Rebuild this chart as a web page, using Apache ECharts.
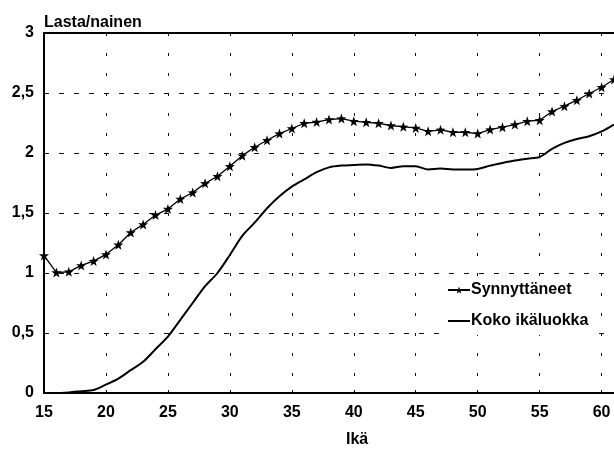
<!DOCTYPE html>
<html><head><meta charset="utf-8">
<script src="https://cdn.jsdelivr.net/npm/echarts@6/dist/echarts.min.js"></script>
<style>html,body{margin:0;padding:0;background:#fff}#c{width:614px;height:451px}</style>
</head><body><div id="c"></div>
<script>
const ages = [15,16,17,18,19,20,21,22,23,24,25,26,27,28,29,30,31,32,33,34,35,36,37,38,39,40,41,42,43,44,45,46,47,48,49,50,51,52,53,54,55,56,57,58,59,60,61];
const synnyttaneet = [1.146,1.004,1.01,1.063,1.099,1.155,1.235,1.338,1.405,1.483,1.533,1.617,1.67,1.747,1.806,1.889,1.978,2.048,2.106,2.162,2.204,2.248,2.258,2.279,2.287,2.265,2.256,2.248,2.229,2.218,2.209,2.181,2.193,2.173,2.173,2.162,2.195,2.215,2.237,2.265,2.273,2.346,2.39,2.44,2.496,2.548,2.613];
const kokoIkaluokka = [0,0,0.005,0.015,0.025,0.07,0.12,0.19,0.26,0.365,0.47,0.61,0.75,0.89,1.0,1.15,1.31,1.42,1.54,1.64,1.72,1.78,1.84,1.88,1.895,1.9,1.905,1.895,1.876,1.89,1.89,1.862,1.87,1.862,1.862,1.867,1.895,1.917,1.937,1.953,1.967,2.034,2.084,2.117,2.14,2.18,2.237];
const seriesNames = ['Synnyttäneet','Koko ikäluokka'];
const yTitle = 'Lasta/nainen';
const xTitle = 'Ikä';

const FONT = '"Liberation Sans", Arial, sans-serif';
const star = 'path://M0,-10 L2.35,-3.24 L9.51,-3.09 L3.8,1.24 L5.88,8.09 L0,4 L-5.88,8.09 L-3.8,1.24 L-9.51,-3.09 L-2.35,-3.24 Z';
const chart = echarts.init(document.getElementById('c'), null, {renderer:'canvas'});
chart.setOption({
  animation:false,
  backgroundColor:'#fff',
  title:{text:yTitle,left:39,top:10,textStyle:{fontFamily:FONT,fontSize:16,fontWeight:'bold',color:'#000'}},
  graphic:[{type:'text',left:346,top:432,style:{text:xTitle,font:'bold 16px '+FONT,fill:'#000'}}],
  grid:{left:44,right:0,top:33,bottom:58},
  legend:{
    orient:'vertical',left:443,top:278,itemWidth:22,itemHeight:9,itemGap:15,
    backgroundColor:'#fff',padding:[4,8,6,4],
    textStyle:{fontFamily:FONT,fontSize:16,fontWeight:'bold',color:'#000',padding:[0,0,0,-4]},
    data:[{name:seriesNames[0]},{name:seriesNames[1],itemStyle:{opacity:0}}]
  },
  xAxis:[{
    type:'value',min:15,max:61,interval:5,
    axisLine:{show:true,lineStyle:{color:'#000',width:2}},
    axisTick:{show:true,length:3,inside:true,lineStyle:{color:'#000'}},
    axisLabel:{showMaxLabel:false,margin:12,fontFamily:FONT,fontSize:16,fontWeight:'bold',color:'#000'},
    splitLine:{show:true,lineStyle:{color:'#111',width:1,type:[3,17]}}
  },{
    type:'value',position:'top',min:15,max:61,
    axisLine:{show:true,onZero:false,lineStyle:{color:'#000',width:2}},
    axisTick:{show:false},axisLabel:{show:false},splitLine:{show:false}
  }],
  yAxis:{
    type:'value',min:0,max:3,interval:0.5,
    axisLine:{show:true,lineStyle:{color:'#000',width:2}},
    axisTick:{show:false},
    axisLabel:{margin:10,fontFamily:FONT,fontSize:16,fontWeight:'bold',color:'#000',
      formatter:v=>String(v).replace('.',',')},
    splitLine:{show:true,lineStyle:{color:'#111',width:1,type:[5,10]}}
  },
  series:[{
    name:seriesNames[0],type:'line',
    data:ages.map((a,i)=>[a,synnyttaneet[i]]),
    symbol:star,symbolSize:10,showAllSymbol:true,
    lineStyle:{color:'#000',width:1.3},itemStyle:{color:'#000'}
  },{
    name:seriesNames[1],type:'line',
    data:ages.map((a,i)=>[a,kokoIkaluokka[i]]),
    symbol:'none',smooth:0.3,
    lineStyle:{color:'#000',width:2},itemStyle:{color:'#000'}
  }]
});
</script></body></html>
